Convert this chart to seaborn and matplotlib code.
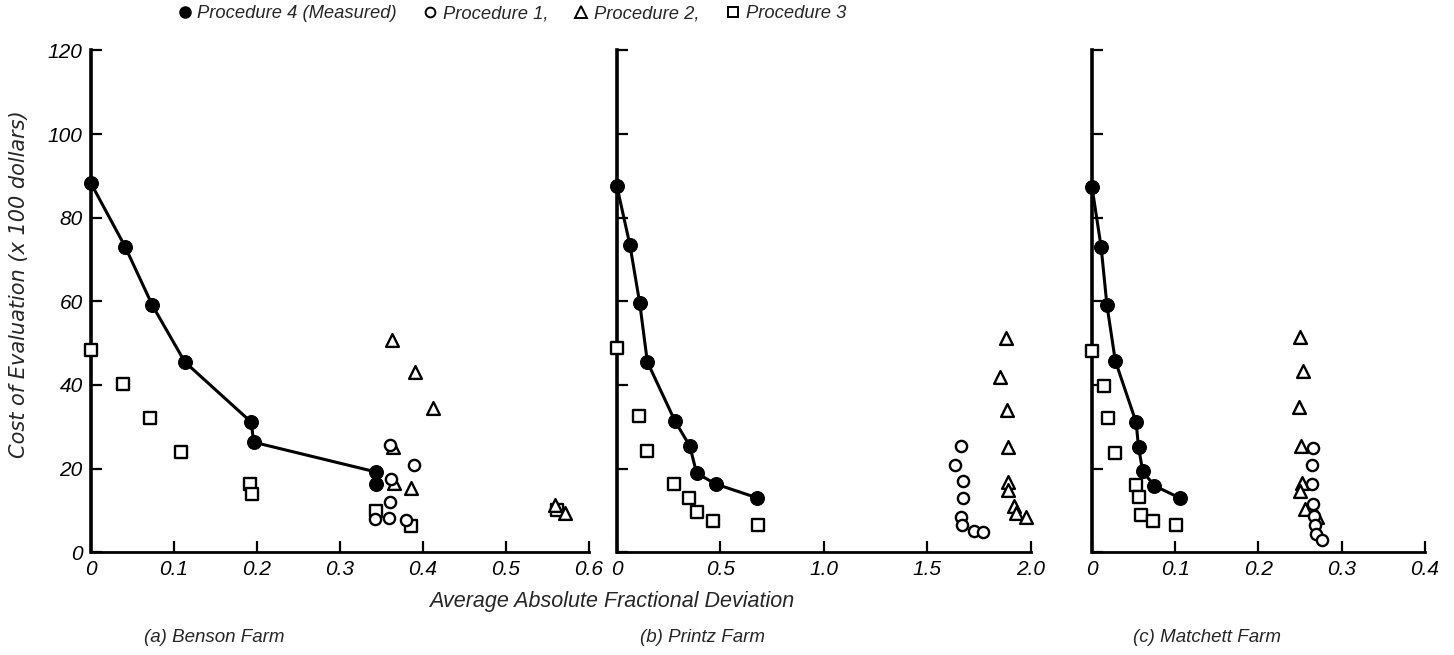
import numpy as np
import pandas as pd
import matplotlib
matplotlib.use("Agg")
import matplotlib.pyplot as plt
import seaborn as sns
from matplotlib.lines import Line2D

# (a) Benson Farm
benson_p4_x = [0.0, 0.041, 0.074, 0.113, 0.193, 0.196, 0.343, 0.343]
benson_p4_y = [88.2, 73.1, 59.0, 45.5, 31.1, 26.3, 19.2, 16.4]
benson_p1_x = [0.360, 0.389, 0.361, 0.360, 0.342, 0.359, 0.380]
benson_p1_y = [25.6, 20.9, 17.5, 12.1, 8.0, 8.2, 7.6]
benson_p2_x = [0.363, 0.390, 0.412, 0.364, 0.365, 0.386, 0.559, 0.571]
benson_p2_y = [50.8, 43.2, 34.4, 25.2, 16.6, 15.3, 11.4, 9.4]
benson_p3_x = [0.0, 0.038, 0.071, 0.109, 0.192, 0.194, 0.343, 0.385, 0.561]
benson_p3_y = [48.3, 40.3, 32.1, 24.0, 16.4, 13.8, 9.9, 6.3, 10.0]

# (b) Printz Farm
printz_p4_x = [0.0, 0.063, 0.110, 0.147, 0.281, 0.352, 0.385, 0.477, 0.677]
printz_p4_y = [87.5, 73.4, 59.6, 45.5, 31.3, 25.4, 18.9, 16.3, 13.0]
printz_p1_x = [1.663, 1.631, 1.671, 1.671, 1.663, 1.668, 1.724, 1.771]
printz_p1_y = [25.5, 20.8, 17.1, 13.0, 8.4, 6.6, 5.0, 4.8]
printz_p2_x = [1.880, 1.851, 1.883, 1.891, 1.888, 1.888, 1.920, 1.930, 1.975]
printz_p2_y = [51.2, 41.8, 34.0, 25.1, 16.9, 14.8, 11.0, 9.3, 8.4]
printz_p3_x = [0.0, 0.105, 0.145, 0.276, 0.350, 0.385, 0.463, 0.681]
printz_p3_y = [48.9, 32.5, 24.1, 16.2, 13.0, 9.6, 7.5, 6.6]

# (c) Matchett Farm
matchett_p4_x = [0.0, 0.011, 0.018, 0.028, 0.053, 0.056, 0.061, 0.075, 0.106]
matchett_p4_y = [87.4, 73.0, 59.1, 45.8, 31.1, 25.1, 19.3, 15.9, 12.9]
matchett_p1_x = [0.265, 0.264, 0.264, 0.266, 0.267, 0.268, 0.269, 0.276]
matchett_p1_y = [25.0, 20.8, 16.3, 11.6, 8.6, 6.4, 4.3, 3.0]
matchett_p2_x = [0.250, 0.254, 0.249, 0.251, 0.252, 0.250, 0.256, 0.270]
matchett_p2_y = [51.4, 43.3, 34.7, 25.5, 16.5, 14.6, 10.3, 8.5]
matchett_p3_x = [0.0, 0.014, 0.019, 0.028, 0.053, 0.056, 0.059, 0.073, 0.101]
matchett_p3_y = [48.2, 39.8, 32.1, 23.6, 16.1, 13.3, 8.8, 7.5, 6.4]

y_ticks = [0, 20, 40, 60, 80, 100, 120]
y_ticklabels = ["0", "20", "40", "60", "80", "100", "120"]

sns.set_style("white")
plt.rcParams["font.family"] = ["Liberation Sans", "DejaVu Sans"]
plt.rcParams["font.style"] = "italic"

fig = plt.figure(figsize=(14.54, 6.55), dpi=100)
bottom, height = 0.157, 0.766
ax_a = fig.add_axes([0.0626, bottom, 0.3425, height])
ax_b = fig.add_axes([0.4243, bottom, 0.2847, height])
ax_c = fig.add_axes([0.7510, bottom, 0.2290, height])


def draw_panel(ax, p4_x, p4_y, p1_x, p1_y, p2_x, p2_y, p3_x, p3_y, xticks, xlabels, show_y):
    open_kw = dict(color="white", edgecolor="black", linewidth=1.7, clip_on=False, zorder=3, ax=ax)
    sns.scatterplot(x=p3_x, y=p3_y, marker="s", s=65, **open_kw)
    sns.scatterplot(x=p2_x, y=p2_y, marker="^", s=85, **open_kw)
    sns.scatterplot(x=p1_x, y=p1_y, marker="o", s=65, **open_kw)
    sns.lineplot(x=p4_x, y=p4_y, sort=False, estimator=None, color="black", linewidth=2.2,
                 marker="o", markersize=10, markeredgecolor="black", clip_on=False, zorder=4, ax=ax)

    ax.set_xlim(xticks[0], xticks[-1])
    ax.set_ylim(0, 120)
    ax.set_xticks(xticks)
    ax.set_xticklabels(xlabels)
    ax.set_yticks(y_ticks)
    ax.set_yticklabels(y_ticklabels if show_y else [])
    for side in ["top", "right"]:
        ax.spines[side].set_visible(False)
    ax.spines["left"].set_linewidth(2.6)
    ax.spines["bottom"].set_linewidth(2.0)
    ax.spines["left"].set_color("black")
    ax.spines["bottom"].set_color("black")
    ax.tick_params(axis="both", direction="in", length=8, width=1.6, colors="black",
                   labelsize=15, pad=6)
    ax.tick_params(axis="both", which="both", left=True, bottom=True)
    ax.set_xlabel("")
    ax.set_ylabel("")
    ax.grid(False)


draw_panel(ax_a, benson_p4_x, benson_p4_y, benson_p1_x, benson_p1_y,
           benson_p2_x, benson_p2_y, benson_p3_x, benson_p3_y,
           [0, 0.1, 0.2, 0.3, 0.4, 0.5, 0.6], ["0", "0.1", "0.2", "0.3", "0.4", "0.5", "0.6"], True)
draw_panel(ax_b, printz_p4_x, printz_p4_y, printz_p1_x, printz_p1_y,
           printz_p2_x, printz_p2_y, printz_p3_x, printz_p3_y,
           [0, 0.5, 1.0, 1.5, 2.0], ["0", "0.5", "1.0", "1.5", "2.0"], False)
draw_panel(ax_c, matchett_p4_x, matchett_p4_y, matchett_p1_x, matchett_p1_y,
           matchett_p2_x, matchett_p2_y, matchett_p3_x, matchett_p3_y,
           [0, 0.1, 0.2, 0.3, 0.4], ["0", "0.1", "0.2", "0.3", "0.4"], False)

ax_a.set_ylabel("Cost of Evaluation (x 100 dollars)", fontsize=15,
                family=["DejaVu Sans"], style="oblique")
ax_a.yaxis.set_label_coords(-0.125, 0.535)

fig.text(612 / 1454, 1 - 602 / 655, "Average Absolute Fractional Deviation",
         ha="center", va="center", fontsize=15.5)
fig.text(214 / 1454, 1 - 638 / 655, "(a) Benson Farm", ha="center", va="center", fontsize=13.5)
fig.text(702 / 1454, 1 - 638 / 655, "(b) Printz Farm", ha="center", va="center", fontsize=13.5)
fig.text(1207 / 1454, 1 - 638 / 655, "(c) Matchett Farm", ha="center", va="center", fontsize=13.5)

handles = [
    Line2D([], [], linestyle="none", marker="o", markersize=8, color="black"),
    Line2D([], [], linestyle="none", marker="o", markersize=7, markerfacecolor="white",
           markeredgecolor="black", markeredgewidth=1.4),
    Line2D([], [], linestyle="none", marker="^", markersize=8, markerfacecolor="white",
           markeredgecolor="black", markeredgewidth=1.4),
    Line2D([], [], linestyle="none", marker="s", markersize=7, markerfacecolor="white",
           markeredgecolor="black", markeredgewidth=1.4),
]
labels = ["Procedure 4 (Measured)", "Procedure 1,", "Procedure 2,", "Procedure 3"]
fig.legend(handles, labels, loc="center", bbox_to_anchor=(512 / 1454, 1 - 14 / 655), ncol=4,
           frameon=False, fontsize=13.2, handlelength=0.7, handletextpad=0.35, columnspacing=1.45)

fig.savefig("out.png", dpi=100)
